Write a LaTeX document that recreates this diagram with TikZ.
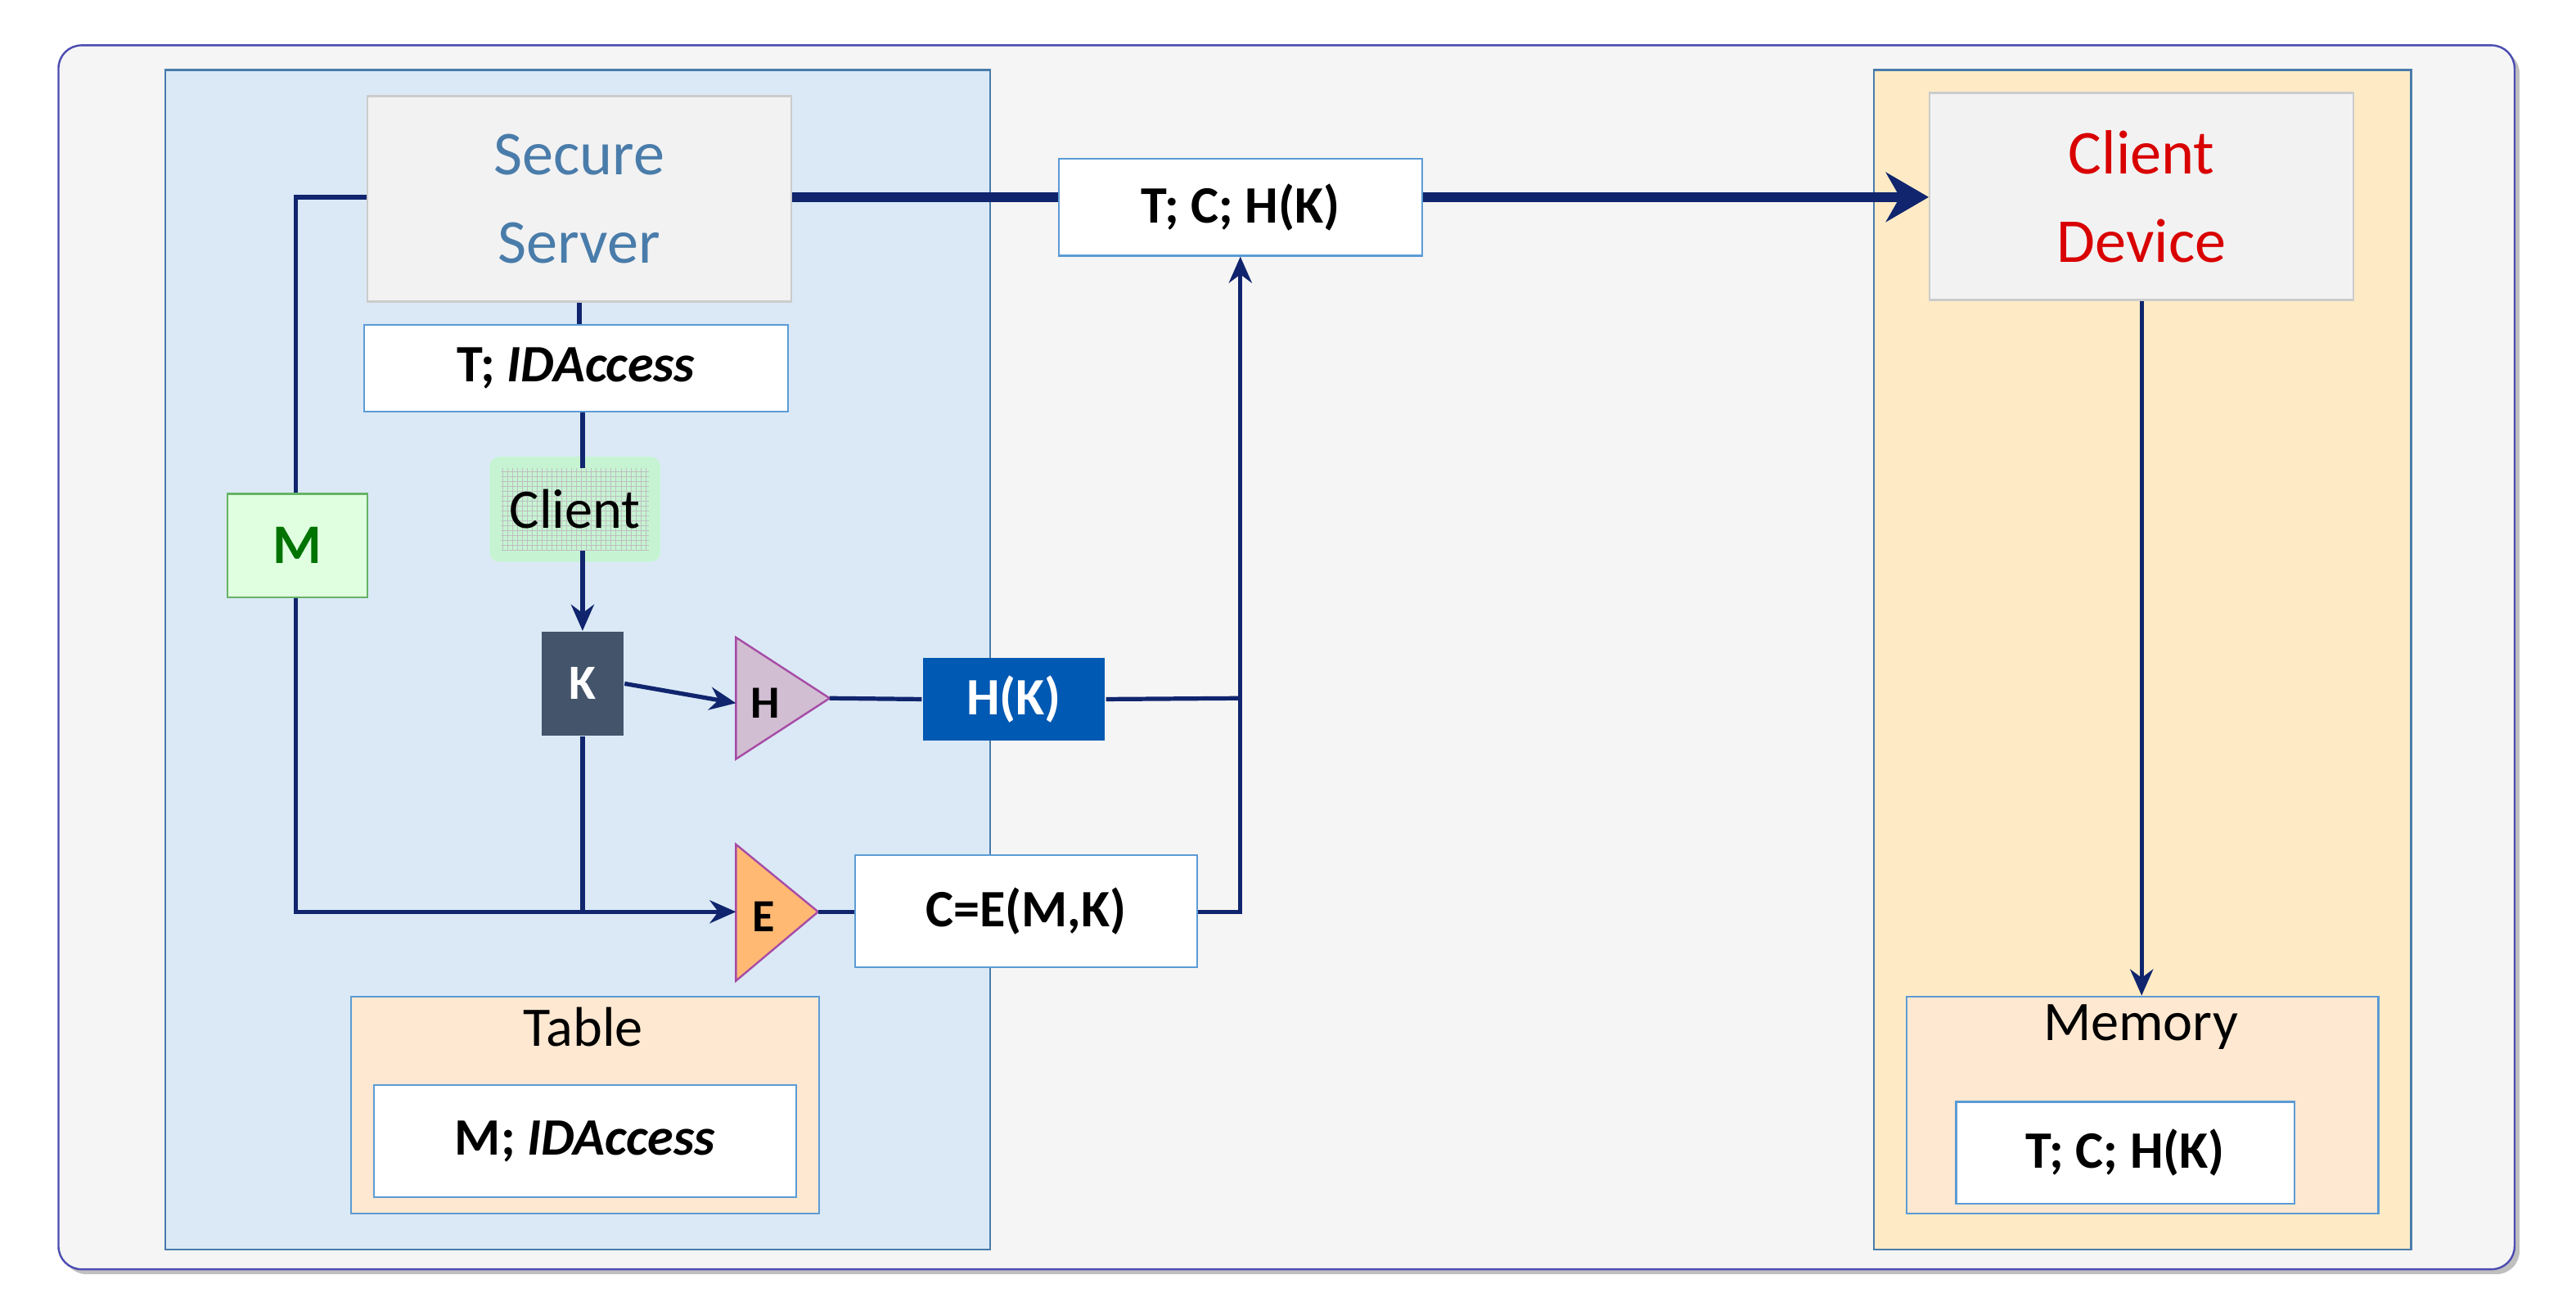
\documentclass[tikz,border=0pt]{standalone}
\usepackage{fontspec}
\setmainfont{Carlito}
\usetikzlibrary{shapes.geometric,arrows.meta,shadows,patterns}
\definecolor{navy}{HTML}{10256E}
\definecolor{bord}{HTML}{5B9BD5}
\definecolor{kcol}{HTML}{44546A}
\begin{document}
\begin{tikzpicture}[x=1pt,y=-1pt,
  box/.style={draw=bord,line width=1.2pt,inner sep=0pt,anchor=north west},
  wbox/.style={box,fill=white,font=\fontsize{32}{36}\selectfont\bfseries},
  ln/.style={draw=navy,line width=2.6pt},
  ar/.style={ln,-{Stealth[length=16pt,width=14pt]}},
  tri/.style={draw=violet!70,line width=1.2pt},
  tlab/.style={font=\fontsize{28}{30}\selectfont\bfseries}]
\useasboundingbox (0,0) rectangle (1568,800);
\fill[white] (0,0) rectangle (1568,800);
\node[box,draw=gray!60!blue,fill=gray!8,rounded corners=14pt,minimum width=1495pt,minimum height=745pt,drop shadow={opacity=0.5,shadow xshift=3pt,shadow yshift=-3pt}] (outer) at (35,27) {};
\node[box,draw=bord!80!black,fill=bord!22,minimum width=502pt,minimum height=718pt] (left) at (100,42) {};
\node[box,draw=bord!80!black,fill=yellow!30!orange!20,minimum width=327pt,minimum height=718pt] (right) at (1140,42) {};
% server
\node[box,draw=gray!40,fill=gray!10,minimum width=258pt,minimum height=125pt,align=center,font=\fontsize{38}{54}\selectfont,text=bord!80!black] (srv) at (223,58) {Secure\\Server};
\node[wbox,minimum width=258pt,minimum height=53pt] (tid) at (221,197) {T; \textit{IDAccess}};
\node[fill=green!30,rounded corners=6pt,minimum width=104pt,minimum height=64pt,opacity=0.5] (glow) at (350,310) {};
\node[fill=white,pattern=grid,pattern color=gray!50,minimum width=90pt,minimum height=50pt] (cl) at (350,310) {};
\node[font=\fontsize{34}{36}\selectfont] (clt) at (350,310) {Client};
\node[box,draw=none,fill=kcol,minimum width=50pt,minimum height=63pt] (K) at (329,384) {};
\node[text=white,font=\fontsize{30}{30}\selectfont\bfseries] at (K.center) {K};
% H triangle
\coordinate (Hl) at (448,425);
\coordinate (Ha) at (505,425);
\filldraw[tri,fill=gray!55!violet!35] (448,388) -- (Ha) -- (448,462) -- cycle;
\node[tlab] (H) at (466,428) {H};
\node[box,draw=none,fill=blue!50!cyan!70!black,minimum width=111pt,minimum height=50pt,text=white,font=\fontsize{32}{34}\selectfont\bfseries] (HK) at (561,400) {H(K)};
% E triangle
\coordinate (El) at (448,555);
\coordinate (Ea) at (498,555);
\filldraw[tri,fill=orange!55] (448,514) -- (Ea) -- (448,597) -- cycle;
\node[tlab] (E) at (465,558) {E};
\node[wbox,minimum width=208pt,minimum height=68pt] (C) at (520,520) {C=E(M,K)};
\node[box,draw=green!50!black!60,fill=green!12,minimum width=85pt,minimum height=63pt,text=green!45!black,font=\fontsize{34}{34}\selectfont\bfseries] (M) at (138,300) {M};
\node[box,fill=orange!18,minimum width=285pt,minimum height=132pt] (tab) at (213,606) {};
\node[font=\fontsize{34}{36}\selectfont] at (355,625) {Table};
\node[wbox,minimum width=257pt,minimum height=68pt] (mid) at (227,660) {M; \textit{IDAccess}};
\node[wbox,minimum width=221pt,minimum height=59pt] (tch) at (644,96) {T; C; H(K)};
% client device
\node[box,draw=gray!40,fill=gray!10,minimum width=258pt,minimum height=126pt,align=center,font=\fontsize{38}{54}\selectfont,text=red!85!black] (cd) at (1174,56) {Client\\Device};
\node[box,fill=orange!18,minimum width=287pt,minimum height=132pt] (mem) at (1160,606) {};
\node[font=\fontsize{34}{36}\selectfont] at (1303,625) {Memory};
\node[wbox,minimum width=206pt,minimum height=62pt] (mtch) at (1190,670) {T; C; H(K)};
% connectors
\draw[navy,line width=6pt] (srv.east|-0,120) -- (tch.west|-0,120);
\draw[navy,line width=6pt,-{Stealth[length=26pt,width=30pt]}] (tch.east|-0,120) -- (cd.west|-0,120);
\draw[ln] (srv.south) -- (tid.north-|srv.south);
\draw[ln] (tid.south-|K.north) -- (cl.north-|K.north);
\draw[ar] (cl.south-|K.north) -- (K.north);
\coordinate (m1) at (180,120);
\coordinate (m2) at (180,555);
\draw[ln] (srv.west|-m1) -- (m1) -- (M.north-|m1);
\draw[ar] (M.south-|m1) -- (m2) -- (El);
\draw[ln] (K.south) -- (K.south|-m2);
\draw[ar] (K.east) -- (448,428);
\coordinate (j1) at (755,425);
\coordinate (j2) at (755,555);
\draw[ln] (Ha) -- (HK.west);
\draw[ln] (HK.east) -- (j1);
\draw[ln] (Ea) -- (C.west|-Ea);
\draw[ar] (C.east|-j2) -- (j2) -- (tch.south-|j2);
\draw[ar] (cd.south) -- (mem.north-|cd.south);
\end{tikzpicture}
\end{document}
